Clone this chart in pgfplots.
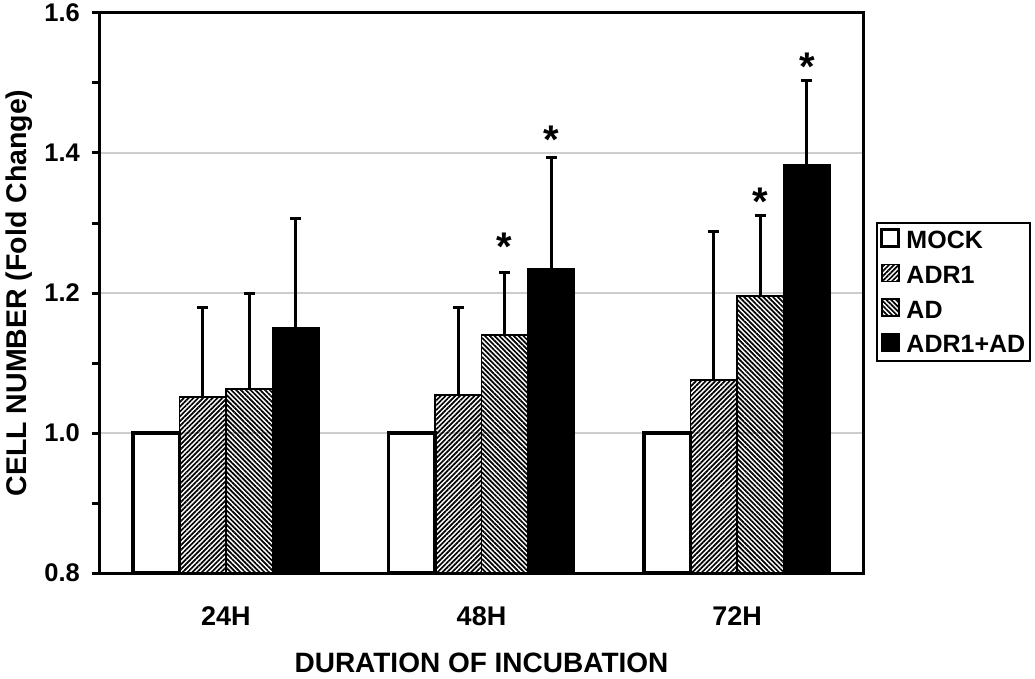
\documentclass[border=0pt]{standalone}
\usepackage{pgfplots}
\usepackage{pgfplotstable}
\pgfplotsset{compat=1.18}
\usepackage{fontspec}
\setmainfont{Liberation Sans}
\usetikzlibrary{patterns.meta}
\definecolor{gridgray}{RGB}{205,205,205}

\pgfplotstableread{
x y e
0 1.000 0
1 1.000 0
2 1.000 0
}\mock
\pgfplotstableread{
x y e
0 1.051 0.129
1 1.054 0.126
2 1.076 0.212
}\adrone
\pgfplotstableread{
x y e
0 1.063 0.137
1 1.140 0.090
2 1.196 0.115
}\ad
\pgfplotstableread{
x y e
0 1.150 0.157
1 1.234 0.160
2 1.383 0.121
}\both

\begin{document}
\begin{tikzpicture}
\useasboundingbox (0,0) rectangle (1035pt,678pt);
\begin{axis}[
  at={(100pt,105pt)}, anchor=south west,
  scale only axis, width=763pt, height=560pt,
  ybar, bar width=0.182,
  xmin=-0.493, xmax=2.493,
  ymin=0.8, ymax=1.6,
  xtick={0,1,2}, xticklabels={24H,48H,72H},
  ytick={0.8,1.0,1.2,1.4,1.6},
  minor y tick num=1,
  tick align=outside,
  major tick length=8pt, minor tick length=8pt,
  xtick pos=bottom, ytick pos=left,
  xtick style={draw=none},
  ytick style={line width=3pt, black},
  minor y tick style={line width=3pt, black},
  axis line style={line width=3pt},
  ymajorgrids, grid style={gridgray, line width=1.3pt},
  /pgf/number format/assume math mode=true,
  /pgf/number format/.cd, fixed, fixed zerofill, precision=1, /pgfplots/.cd,
  yticklabel style={font=\fontsize{25.5}{30}\selectfont\bfseries, inner xsep=2pt, xshift=-10pt},
  xticklabel style={font=\fontsize{27}{30}\selectfont\bfseries, yshift=-22pt},
  ylabel={CELL NUMBER (Fold Change)},
  xlabel={DURATION OF INCUBATION},
  ylabel style={font=\fontsize{28.5}{30}\selectfont\bfseries, at={(axis description cs:-0.1055,0.5)}, anchor=center},
  xlabel style={font=\fontsize{28}{30}\selectfont\bfseries, at={(axis description cs:0.5,-0.1768)}, anchor=base},
  legend style={at={(1.017,0.627)}, anchor=north west, draw=black, line width=2pt,
    font=\fontsize{25}{28}\selectfont\bfseries, inner xsep=3pt, inner ysep=5pt, row sep=11.5pt,
    /tikz/every odd column/.append style={column sep=4pt}},
  legend cell align=left,
  legend image code/.code={\draw[#1] (0pt,-6pt) rectangle (17pt,11pt);},
  error bars/y dir=plus, error bars/y explicit,
  error bars/error bar style={line width=3pt, black},
  error bars/error mark options={rotate=90, mark size=5.5pt, line width=3pt, black},
]
\addplot[draw=black, fill=white, line width=3.5pt, bar shift=-0.273,
  error bars/y dir=none] table[x=x, y=y] {\mock};
\addlegendentry{MOCK}
\addplot[draw=black, line width=1.8pt, bar shift=-0.091,
  pattern={Lines[angle=45, distance=3.4pt, line width=1.7pt]}]
  table[x=x, y=y, y error=e] {\adrone};
\addlegendentry{ADR1}
\addplot[draw=black, line width=1.8pt, bar shift=0.091,
  pattern={Lines[angle=-45, distance=3.4pt, line width=1.7pt]}]
  table[x=x, y=y, y error=e] {\ad};
\addlegendentry{AD}
\addplot[draw=black, fill=black, line width=1.8pt, bar shift=0.273]
  table[x=x, y=y, y error=e] {\both};
\addlegendentry{ADR1+AD}
\node[anchor=north, inner sep=0pt, font=\fontsize{40}{40}\selectfont\bfseries] at (axis cs:1.091,1.286) {*};
\node[anchor=north, inner sep=0pt, font=\fontsize{40}{40}\selectfont\bfseries] at (axis cs:1.273,1.439) {*};
\node[anchor=north, inner sep=0pt, font=\fontsize{40}{40}\selectfont\bfseries] at (axis cs:2.091,1.351) {*};
\node[anchor=north, inner sep=0pt, font=\fontsize{40}{40}\selectfont\bfseries] at (axis cs:2.273,1.543) {*};
\end{axis}
\end{tikzpicture}
\end{document}
